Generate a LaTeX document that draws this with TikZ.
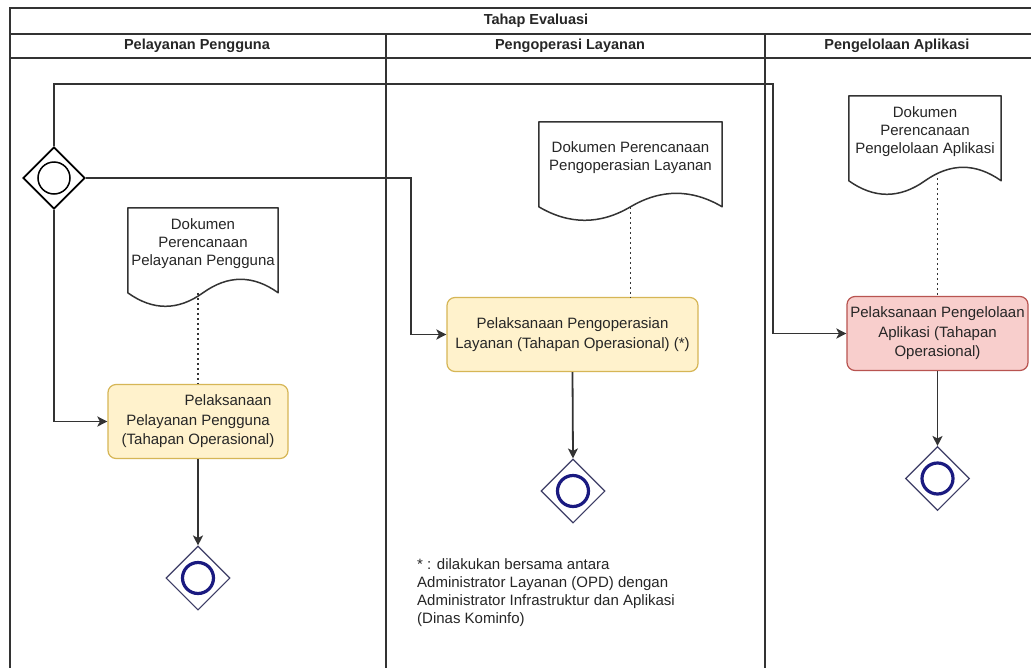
\documentclass[tikz,border=0pt]{standalone}
\usepackage{fontspec}
\setmainfont{Liberation Sans}
\usetikzlibrary{arrows.meta,calc,shapes.geometric}

\definecolor{ink}{HTML}{262626}
\definecolor{rule}{HTML}{333333}
\definecolor{taskfill}{HTML}{FFF2CC}
\definecolor{taskline}{HTML}{D6B656}
\definecolor{hotfill}{HTML}{F8CECC}
\definecolor{hotline}{HTML}{B85450}
\definecolor{endring}{HTML}{1A1A80}
\definecolor{endedge}{HTML}{3D3D66}

% document symbol: flat top, wavy bottom drawn below the text node
\newcommand\docoutline[1]{%
  \draw[docedge] let \p1=(#1.north west), \p2=(#1.north east), \n1={\x2-\x1} in
    (\p1) -- (\p2) -- (\x2,\y1-85pt)
    .. controls (\x1+0.8333*\n1,\y1-67pt) and (\x1+0.6667*\n1,\y1-67pt) .. (\x1+0.5*\n1,\y1-85pt)
    .. controls (\x1+0.3333*\n1,\y1-103pt) and (\x1+0.1667*\n1,\y1-103pt) .. (\x1,\y1-85pt) -- cycle;}

\begin{document}
\begin{tikzpicture}[x=1pt,y=-1pt,
  frameline/.style={draw=rule,line width=1.9pt},
  lanehead/.style={font=\fontsize{14.5}{17}\selectfont\bfseries,text=ink,inner sep=0pt},
  body/.style={font=\fontsize{15}{18}\selectfont,text=ink,align=center,inner sep=0pt},
  taskbox/.style={body,font=\fontsize{15}{19.5}\selectfont,rectangle,rounded corners=8pt,
    draw=taskline,fill=taskfill,line width=1.2pt,minimum height=74pt},
  hottask/.style={taskbox,draw=hotline,fill=hotfill},
  docbox/.style={body,minimum height=72pt},
  docedge/.style={draw=rule,line width=1.5pt,line join=round},
  flow/.style={draw=rule,line width=1.8pt,-{Stealth[length=10pt,width=10pt,inset=2.5pt]}},
  assoc/.style={draw=rule,line width=1.6pt,dash pattern=on 2.5pt off 2.5pt},
  startgate/.style={diamond,draw=black,line width=1.8pt,minimum width=62pt,minimum height=62pt,
    inner sep=0pt,fill=white,
    path picture={\draw[black,line width=1.5pt] (path picture bounding box.center) circle (16pt);}},
  endgate/.style={diamond,draw=endedge,line width=1.1pt,minimum width=64pt,minimum height=64pt,
    inner sep=0pt,fill=white,
    path picture={\draw[endring,line width=3.2pt] (path picture bounding box.center) circle (15.5pt);}},
]
\useasboundingbox (0,0) rectangle (1031,667);
\clip (0,0) rectangle (1031,667);
\fill[white] (0,0) rectangle (1031,667);

% pool frame and lanes
\draw[frameline] (10,675) -- (10,8) -- (1050,8);
\draw[frameline] (10,34) -- (1050,34);
\draw[frameline] (10,58) -- (1050,58);
\draw[frameline] (386,34) -- (386,675);
\draw[frameline] (765,34) -- (765,675);

\node[lanehead] (pool)  at (536,21) {Tahap Evaluasi};
\node[lanehead] (laneA) at (197,46) {Pelayanan Pengguna};
\node[lanehead] (laneB) at (570,46) {Pengoperasi Layanan};
\node[lanehead] (laneC) at (897,46) {Pengelolaan Aplikasi};

% start gateway
\node[startgate] (gw) at (54,178) {};

% documents
\node[docbox,minimum width=150pt] (doc1) at (203,244) {Dokumen\\Perencanaan\\Pelayanan Pengguna};
\docoutline{doc1}
\node[docbox,minimum width=183pt] (doc2) at (630.5,158) {Dokumen Perencanaan\\Pengoperasian Layanan};
\docoutline{doc2}
\node[docbox,minimum width=152pt] (doc3) at (925,132) {Dokumen\\Perencanaan\\Pengelolaan Aplikasi};
\docoutline{doc3}

% tasks
\node[taskbox,minimum width=180pt] (task1) at (198,421.5)
  {\hspace*{60pt}Pelaksanaan\\Pelayanan Pengguna\\(Tahapan Operasional)};
\node[taskbox,minimum width=251pt] (task2) at (572.5,334.5)
  {Pelaksanaan Pengoperasian\\Layanan (Tahapan Operasional) (*)};
\node[hottask,minimum width=181pt] (task3) at (937.5,333.5)
  {Pelaksanaan Pengelolaan\\Aplikasi (Tahapan\\Operasional)};

% end events
\node[endgate] (end1) at (198,578) {};
\node[endgate] (end2) at (573,491) {};
\node[endgate] (end3) at (937.5,478.5) {};

% associations from documents
\coordinate (d1) at ([yshift=-85pt]doc1.north);
\coordinate (d2) at ([yshift=-85pt]doc2.north);
\coordinate (d3) at ([yshift=-82pt]doc3.north);
\draw[assoc] (d1 -| task1.north) -- (task1.north);
\draw[assoc] (d2) -- (d2 |- task2.north);
\draw[assoc] (d3 -| task3.north) -- (task3.north);

% sequence flows
\coordinate (loopA) at (54,84);
\coordinate (loopB) at (773,84);
\coordinate (midA) at (411,178);
\draw[flow] (gw.north) -- (loopA) -- (loopB) |- (task3.west);
\draw[flow] (gw.east) -- (midA) |- (task2.west);
\draw[flow] (gw.south) |- (task1.west);
\draw[flow] (task1.south) -- (end1.north);
\draw[flow] (task2.south) -- (end2.north);
\draw[flow] (task3.south) -- (end3.north);

% footnote
\node[body,align=left,anchor=north west] (note) at (417,558)
  {* : dilakukan bersama antara\\Administrator Layanan (OPD) dengan\\Administrator Infrastruktur dan Aplikasi\\(Dinas Kominfo)};
\end{tikzpicture}
\end{document}
